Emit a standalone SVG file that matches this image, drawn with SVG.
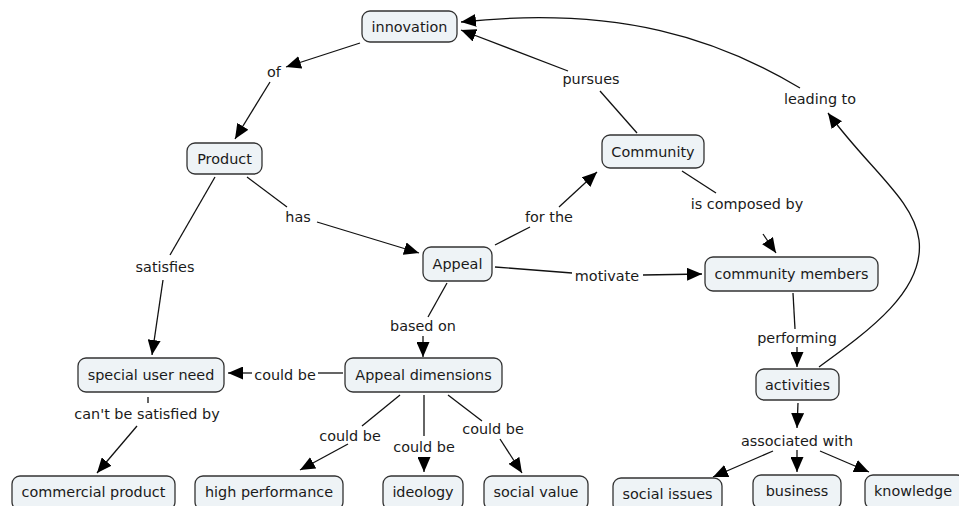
<svg xmlns="http://www.w3.org/2000/svg" width="959" height="506" viewBox="0 0 959 506">
<defs>
<marker id="ah" markerUnits="userSpaceOnUse" markerWidth="15" markerHeight="13" refX="15" refY="6.5" orient="auto">
<path d="M0,0 L15,6.5 L0,13 z" fill="#000"/>
</marker>
<style>
.n rect{fill:#eef3f6;stroke:#333;stroke-width:1.3}
.n text,.lb text{font-family:"DejaVu Sans",Verdana,sans-serif;font-size:14.4px;fill:#1a1a1a;text-anchor:middle}
.c path{fill:none;stroke:#111;stroke-width:1.3}
.c .a{marker-end:url(#ah)}
</style>
</defs>
<rect width="959" height="506" fill="#fff"/>
<g id="connectors" class="c">
<path class="a" d="M360,43 L286,67"/>
<path class="a" d="M270,82 L235,139"/>
<path d="M637,133 L600,91"/>
<path class="a" d="M568,71 L461,30"/>
<path class="a" d="M800,88 C720,40 620,5 461,22"/>
<path class="a" d="M819,367 C870,330 925,290 919,240 C914,200 870,170 828,113"/>
<path d="M247,177 L287,207"/>
<path class="a" d="M317,222 L419,253"/>
<path d="M215,177 L170,255"/>
<path class="a" d="M163,280 L152,355"/>
<path d="M447,283 L428,317"/>
<path class="a" d="M423,336 L423,357"/>
<path d="M495,245 L530,227"/>
<path class="a" d="M559,207 L597,172"/>
<path d="M682,171 L716,193"/>
<path class="a" d="M763,234 L776,253"/>
<path d="M495,267 L572,273"/>
<path class="a" d="M643,275 L702,274"/>
<path d="M793,293 L795,329"/>
<path class="a" d="M797,347 L797,367"/>
<path d="M343,373 L318,373"/>
<path class="a" d="M252,373 L228,373"/>
<path d="M148,397 L148,403"/>
<path class="a" d="M137,426 L97,473"/>
<path d="M400,395 L362,426"/>
<path class="a" d="M348,444 L300,470"/>
<path d="M424,395 L424,436"/>
<path class="a" d="M424,458 L424,472"/>
<path d="M448,395 L482,421"/>
<path class="a" d="M500,439 L522,473"/>
<path class="a" d="M798,403 L797,428"/>
<path class="a" d="M773,451 L713,477"/>
<path class="a" d="M797,450 L797,472"/>
<path class="a" d="M820,451 L869,472"/>
</g>
<g id="labels" class="lb">
<text x="274" y="77">of</text>
<text x="591" y="84">pursues</text>
<text x="820" y="104">leading to</text>
<text x="298" y="222">has</text>
<text x="165" y="272">satisfies</text>
<text x="549" y="222">for the</text>
<text x="747" y="209">is composed by</text>
<text x="607" y="281">motivate</text>
<text x="423" y="331">based on</text>
<text x="797" y="343">performing</text>
<text x="285" y="380">could be</text>
<text x="147" y="419">can't be satisfied by</text>
<text x="350" y="441">could be</text>
<text x="424" y="452">could be</text>
<text x="493" y="434">could be</text>
<text x="797" y="446">associated with</text>
</g>
<g id="innovation" class="n"><rect x="362" y="11" width="95" height="31" rx="8"/><text x="409.5" y="31.5">innovation</text></g>
<g id="product" class="n"><rect x="187" y="143" width="75" height="31" rx="8"/><text x="224.5" y="163.5">Product</text></g>
<g id="community" class="n"><rect x="602" y="135" width="102" height="33" rx="8"/><text x="653" y="156.5">Community</text></g>
<g id="appeal" class="n"><rect x="423" y="247" width="69" height="34" rx="8"/><text x="457.5" y="269">Appeal</text></g>
<g id="community-members" class="n"><rect x="705" y="257" width="173" height="34" rx="8"/><text x="791.5" y="279">community members</text></g>
<g id="special-user-need" class="n"><rect x="78" y="358" width="146" height="34" rx="8"/><text x="151" y="380">special user need</text></g>
<g id="appeal-dimensions" class="n"><rect x="345" y="358" width="157" height="34" rx="8"/><text x="423.5" y="380">Appeal dimensions</text></g>
<g id="activities" class="n"><rect x="756" y="369" width="83" height="31" rx="8"/><text x="797.5" y="389.5">activities</text></g>
<g id="commercial-product" class="n"><rect x="12" y="476" width="163" height="34" rx="8"/><text x="93.5" y="497">commercial product</text></g>
<g id="high-performance" class="n"><rect x="195" y="476" width="148" height="34" rx="8"/><text x="269" y="497">high performance</text></g>
<g id="ideology" class="n"><rect x="383" y="476" width="80" height="34" rx="8"/><text x="423" y="497">ideology</text></g>
<g id="social-value" class="n"><rect x="484" y="476" width="104" height="34" rx="8"/><text x="536" y="497">social value</text></g>
<g id="social-issues" class="n"><rect x="613" y="478" width="109" height="34" rx="8"/><text x="667.5" y="499">social issues</text></g>
<g id="business" class="n"><rect x="753" y="475" width="88" height="34" rx="8"/><text x="797" y="496">business</text></g>
<g id="knowledge" class="n"><rect x="865" y="475" width="100" height="34" rx="8"/><text x="913" y="496">knowledge</text></g>
</svg>
